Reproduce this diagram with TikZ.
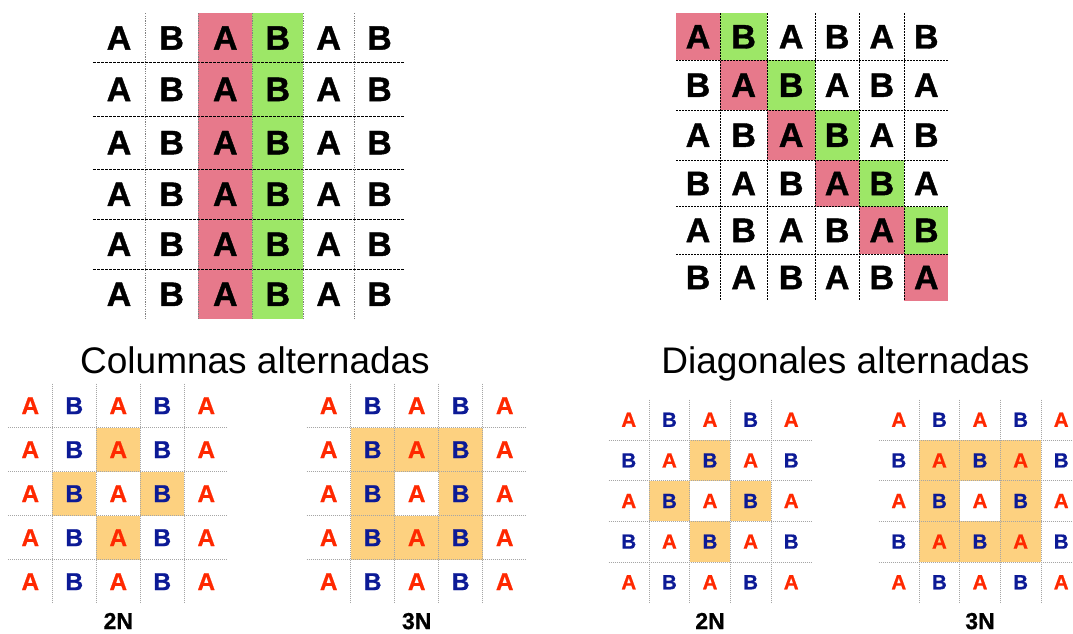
\documentclass[tikz,border=0pt]{standalone}
\usepackage{fontspec}
\setmainfont{Liberation Sans}
\newfontfamily\heavyfont{Liberation Sans}[BoldFeatures={FakeBold=1.2}]
\newfontfamily\midfont{Liberation Sans}[BoldFeatures={FakeBold=0.8}]
\definecolor{pinkc}{RGB}{231,121,139}
\definecolor{greenc}{RGB}{157,231,103}
\definecolor{hl}{RGB}{253,209,128}
\definecolor{redl}{RGB}{255,40,0}
\definecolor{bluel}{RGB}{12,26,150}
\tikzset{
  tline/.style={black,line width=0.9pt,dash pattern=on 2.5pt off 1.5pt},
  tvline/.style={gray,line width=0.9pt,dash pattern=on 1.2pt off 1.2pt},
  trline/.style={black,line width=0.9pt,dash pattern=on 1.5pt off 1.5pt},
  bline/.style={gray!70,line width=0.8pt,dash pattern=on 1pt off 1pt},
  biglet/.style={inner sep=0pt,font=\heavyfont\bfseries\fontsize{34}{34}\selectfont},
  title/.style={anchor=base,font=\fontsize{37}{37}\selectfont},
  nlab/.style={anchor=base,font=\midfont\bfseries\fontsize{23}{23}\selectfont}
}
\def\TLX{{93,145,198.3,252.3,303.3,354,405}}
\def\TLY{{13.3,62.7,116,169.3,219.3,269.3,319.3}}
\def\TRX{{676,720,767.3,815,859.3,904.3,948.3}}
\def\TRY{{13.3,60.3,110,160.3,206.7,254,301}}
% #1 name, #2 x0, #3 y0, #4 cell, #5 diag(1/0), #6 N, #7 font size
\newcommand\bgrid[7]{%
  \foreach \r in {1,2,3}{\foreach \c in {1,2,3}{%
    \pgfmathtruncatemacro\hit{#6==3 ? ((\r==2 && \c==2) ? 0 : 1) : ((abs(\r-2)+abs(\c-2))==1 ? 1 : 0)}%
    \ifnum\hit=1 \fill[hl] ({#2+\c*#4},{#3+\r*#4}) rectangle ++(#4,#4);\fi
  }}%
  \foreach \i in {1,...,4}{%
    \draw[bline] ({#2+\i*#4},#3) -- ({#2+\i*#4},{#3+5*#4});
    \draw[bline] (#2,{#3+\i*#4}) -- ({#2+5*#4},{#3+\i*#4});
  }%
  \foreach \r in {0,...,4}{\foreach \c in {0,...,4}{%
    \pgfmathtruncatemacro\isA{#5==1 ? (mod(\r+\c,2)==0 ? 1 : 0) : (mod(\c,2)==0 ? 1 : 0)}%
    \ifnum\isA=1
      \node[inner sep=0pt,text=redl,font=\midfont\bfseries\fontsize{#7}{#7}\selectfont] (#1-\r-\c) at ({#2+(\c+0.5)*#4},{#3+(\r+0.5)*#4}) {A};
    \else
      \node[inner sep=0pt,text=bluel,font=\midfont\bfseries\fontsize{#7}{#7}\selectfont] (#1-\r-\c) at ({#2+(\c+0.5)*#4},{#3+(\r+0.5)*#4}) {B};
    \fi
  }}%
  \node[nlab] (#1-lab) at ({#2+2.5*#4},629) {#6N};
}
\begin{document}
\begin{tikzpicture}[x=1pt,y=-1pt]
\useasboundingbox (0,0) rectangle (1073,634);
\clip (0,0) rectangle (1073,634);
% ---------- top-left: columns ----------
\fill[pinkc] (198.3,13.3) rectangle (252.3,319.3);
\fill[greenc] (252.3,13.3) rectangle (303.3,319.3);
\foreach \i in {1,...,5}{%
  \pgfmathsetmacro\xx{\TLX[\i]}%
  \pgfmathsetmacro\yy{\TLY[\i]}%
  \draw[tvline] (\xx,13.3) -- (\xx,319.3);
  \draw[tline] (93,\yy) -- (405,\yy);
}
\foreach \r in {0,...,5}{\foreach \c in {0,...,5}{%
  \pgfmathtruncatemacro\rn{\r+1}\pgfmathtruncatemacro\cn{\c+1}%
  \pgfmathsetmacro\xa{\TLX[\c]}\pgfmathsetmacro\xb{\TLX[\cn]}%
  \pgfmathsetmacro\ya{\TLY[\r]}\pgfmathsetmacro\yb{\TLY[\rn]}%
  \pgfmathtruncatemacro\isA{mod(\c,2)==0 ? 1 : 0}%
  \ifnum\isA=1 \node[biglet] (tl-\r-\c) at ({(\xa+\xb)/2},{(\ya+\yb)/2}) {A};
  \else \node[biglet] (tl-\r-\c) at ({(\xa+\xb)/2},{(\ya+\yb)/2}) {B};\fi
}}
% ---------- top-right: diagonals ----------
\foreach \i in {0,...,5}{%
  \pgfmathtruncatemacro\ia{\i+1}\pgfmathtruncatemacro\ib{\i+2}%
  \pgfmathsetmacro\xa{\TRX[\i]}\pgfmathsetmacro\xb{\TRX[\ia]}%
  \pgfmathsetmacro\ya{\TRY[\i]}\pgfmathsetmacro\yb{\TRY[\ia]}%
  \fill[pinkc] (\xa,\ya) rectangle (\xb,\yb);
  \ifnum\i<5
    \pgfmathsetmacro\xc{\TRX[\ib]}%
    \fill[greenc] (\xb,\ya) rectangle (\xc,\yb);
  \fi
}
\foreach \i in {1,...,5}{%
  \pgfmathsetmacro\xx{\TRX[\i]}%
  \pgfmathsetmacro\yy{\TRY[\i]}%
  \draw[trline] (\xx,13.3) -- (\xx,301);
  \draw[trline] (676,\yy) -- (948.3,\yy);
}
\foreach \r in {0,...,5}{\foreach \c in {0,...,5}{%
  \pgfmathtruncatemacro\rn{\r+1}\pgfmathtruncatemacro\cn{\c+1}%
  \pgfmathsetmacro\xa{\TRX[\c]}\pgfmathsetmacro\xb{\TRX[\cn]}%
  \pgfmathsetmacro\ya{\TRY[\r]}\pgfmathsetmacro\yb{\TRY[\rn]}%
  \pgfmathtruncatemacro\isA{mod(\r+\c,2)==0 ? 1 : 0}%
  \ifnum\isA=1 \node[biglet] (tr-\r-\c) at ({(\xa+\xb)/2},{(\ya+\yb)/2}) {A};
  \else \node[biglet] (tr-\r-\c) at ({(\xa+\xb)/2},{(\ya+\yb)/2}) {B};\fi
}}
% ---------- titles ----------
\node[title] (t1) at (255,373.3) {Columnas alternadas};
\node[title] (t2) at (845.5,373.3) {Diagonales alternadas};
% ---------- bottom grids ----------
\bgrid{c2}{8.3}{383.7}{44}{0}{2}{24.5}
\bgrid{c3}{306.7}{383.7}{44}{0}{3}{24.5}
\bgrid{d2}{608.5}{399.5}{40.6}{1}{2}{20.5}
\bgrid{d3}{878.5}{399.5}{40.6}{1}{3}{20.5}
\end{tikzpicture}
\end{document}
